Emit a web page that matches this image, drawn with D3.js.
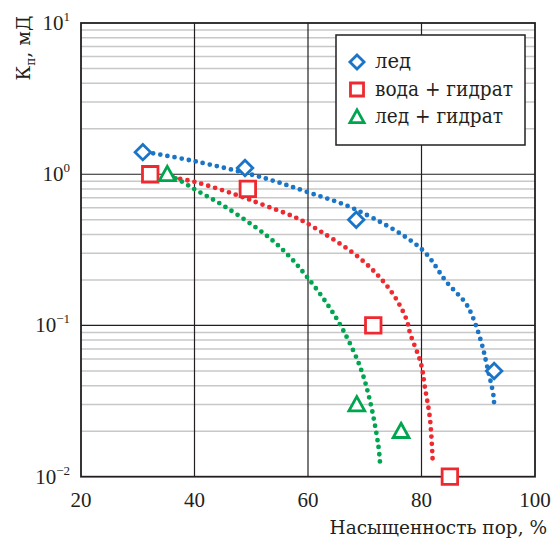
<!DOCTYPE html>
<html>
<head>
<meta charset="utf-8">
<script src="https://cdn.jsdelivr.net/npm/d3@7"></script>
<style>
  body { margin: 0; background: #fff; }
</style>
</head>
<body>
<div class="chart"></div>
<script>

const svgWidth = 552;
const svgHeight = 541;

// measured points
const iceX = [30.9, 48.9, 68.5, 92.8];
const iceY = [1.4, 1.1, 0.5, 0.05];
const waterHydX = [32.2, 49.4, 71.5, 85.0];
const waterHydY = [1.0, 0.8, 0.1, 0.01];
const iceHydX = [35.2, 68.6, 76.4];
const iceHydY = [1.0, 0.03, 0.02];

// trend curves
const iceTrendX = [31.5, 40, 52, 60, 68.6, 80, 84.4, 87.8, 89.1, 90.6, 91.5, 92.7, 92.8];
const iceTrendY = [1.40, 1.22, 0.95, 0.76, 0.58, 0.32, 0.194, 0.14, 0.112, 0.076, 0.055, 0.034, 0.029];
const waterTrendX = [35, 40, 47.4, 51.5, 57.7, 60.4, 69.2, 74.5, 77.3, 78.0, 79.9, 80.6, 81.5, 82.0];
const waterTrendY = [0.97, 0.89, 0.73, 0.64, 0.52, 0.46, 0.277, 0.171, 0.111, 0.0885, 0.056, 0.039, 0.024, 0.012];
const iceHydTrendX = [35.5, 37.4, 40.4, 45.1, 53, 56.8, 59.8, 63.3, 66.2, 69.2, 70.9, 72.4, 72.7];
const iceHydTrendY = [0.98, 0.91, 0.78, 0.62, 0.385, 0.284, 0.21, 0.14, 0.093, 0.053, 0.032, 0.016, 0.0122];

const xTicks = [20, 40, 60, 80, 100];
const yDecades = [0.01, 0.1, 1, 10];
const yExp = ["\u22122", "\u22121", "0", "1"];
const legendNames = ["лед", "вода + гидрат", "лед + гидрат"];

const colors = { blue: "#1a75c6", red: "#ee2a30", green: "#00a550" };
const serif = "'Liberation Serif', serif";
const cyrSerif = "'DejaVu Serif', serif";

const svg = d3.select(".chart")
    .append("svg")
    .attr("width", svgWidth)
    .attr("height", svgHeight)
    .style("font-family", serif);

const plotLeft = 81, plotRight = 535, plotTop = 23, plotBottom = 476.7;

const x = d3.scaleLinear().domain([20, 100]).range([plotLeft, plotRight]);
const y = d3.scaleLog().domain([0.01, 10]).range([plotBottom, plotTop]);

// minor grid
const minor = y.ticks().filter(t => !yDecades.some(d => Math.abs(d - t) < 1e-9));
svg.append("g")
    .selectAll("line")
    .data(minor)
    .enter()
    .append("line")
    .attr("x1", plotLeft).attr("x2", plotRight)
    .attr("y1", d => y(d)).attr("y2", d => y(d))
    .attr("stroke", "#c8c8c8")
    .attr("stroke-width", 1.5);

// major grid
svg.append("g")
    .selectAll("line")
    .data(yDecades.slice(1, 3))
    .enter()
    .append("line")
    .attr("x1", plotLeft).attr("x2", plotRight)
    .attr("y1", d => y(d)).attr("y2", d => y(d))
    .attr("stroke", "#231f20")
    .attr("stroke-width", 1.2);

svg.append("g")
    .selectAll("line")
    .data(xTicks.slice(1, 4))
    .enter()
    .append("line")
    .attr("y1", plotTop).attr("y2", plotBottom)
    .attr("x1", d => x(d)).attr("x2", d => x(d))
    .attr("stroke", "#231f20")
    .attr("stroke-width", 1.2);

svg.append("rect")
    .attr("x", plotLeft).attr("y", plotTop)
    .attr("width", plotRight - plotLeft).attr("height", plotBottom - plotTop)
    .attr("fill", "none")
    .attr("stroke", "#231f20")
    .attr("stroke-width", 1.8);

// tick labels
svg.append("g")
    .selectAll("text")
    .data(xTicks)
    .enter()
    .append("text")
    .attr("x", d => x(d))
    .attr("y", 507)
    .attr("text-anchor", "middle")
    .attr("fill", "#231f20")
    .style("font-size", "21px")
    .text(d => d);

const yLab = svg.append("g")
    .selectAll("text")
    .data(yDecades)
    .enter()
    .append("text")
    .attr("x", 70)
    .attr("y", d => y(d) + 7)
    .attr("text-anchor", "end")
    .attr("fill", "#231f20")
    .style("font-size", "21px");
yLab.append("tspan").text("10");
yLab.append("tspan")
    .attr("dy", -9)
    .style("font-size", "13px")
    .text((d, i) => yExp[i]);

// axis titles
svg.append("text")
    .attr("x", 547)
    .attr("y", 534)
    .attr("text-anchor", "end")
    .attr("fill", "#231f20")
    .style("font-family", cyrSerif)
    .style("font-size", "18.5px")
    .text("Насыщенность пор, %");

const yTitle = svg.append("text")
    .attr("transform", "translate(30, 48) rotate(-90)")
    .attr("text-anchor", "middle")
    .attr("fill", "#231f20")
    .style("font-family", cyrSerif)
    .style("font-size", "19px");
yTitle.append("tspan").text("К");
yTitle.append("tspan").attr("dy", 5).style("font-size", "12px").text("п");
yTitle.append("tspan").attr("dy", -5).text(", мД");

// dotted trends
const line = d3.line()
    .x(d => x(d[0]))
    .y(d => y(d[1]))
    .curve(d3.curveCatmullRom);

const trends = [
    [iceTrendX, iceTrendY, colors.blue],
    [waterTrendX, waterTrendY, colors.red],
    [iceHydTrendX, iceHydTrendY, colors.green]
];
trends.forEach(function (t) {
    svg.append("path")
        .datum(t[0].map((v, i) => [v, t[1][i]]))
        .attr("d", line)
        .attr("fill", "none")
        .attr("stroke", t[2])
        .attr("stroke-width", 4.8)
        .attr("stroke-linecap", "round")
        .attr("stroke-dasharray", "0 7.2");
});

// markers
function drawMarkers(xs, ys, shape, color, size) {
    svg.append("g")
        .selectAll("path")
        .data(xs.map((v, i) => [v, ys[i]]))
        .enter()
        .append("path")
        .attr("transform", d => `translate(${x(d[0])}, ${y(d[1])})`)
        .attr("d", d3.symbol().type(shape).size(size))
        .attr("fill", "#fff")
        .attr("stroke", color)
        .attr("stroke-width", 2.8);
}

const diamond = {
    draw(ctx, size) {
        const r = Math.sqrt(size) / 2;
        ctx.moveTo(0, -r); ctx.lineTo(r, 0); ctx.lineTo(0, r); ctx.lineTo(-r, 0); ctx.closePath();
    }
};
const triangle = {
    draw(ctx, size) {
        const r = Math.sqrt(size) / 2;
        ctx.moveTo(0, -r); ctx.lineTo(r, r * 0.8); ctx.lineTo(-r, r * 0.8); ctx.closePath();
    }
};

drawMarkers(iceX, iceY, diamond, colors.blue, 240);
drawMarkers(waterHydX, waterHydY, d3.symbolSquare, colors.red, 240);
drawMarkers(iceHydX, iceHydY, triangle, colors.green, 250);

// legend
const legend = svg.append("g");
legend.append("rect")
    .attr("x", 336).attr("y", 35)
    .attr("width", 189).attr("height", 110)
    .attr("fill", "#fff")
    .attr("stroke", "#231f20")
    .attr("stroke-width", 1.5);

const legendShapes = [diamond, d3.symbolSquare, triangle];
const legendColors = [colors.blue, colors.red, colors.green];
const legendSizes = [200, 170, 200];
const legendWidths = [36, 138, 128];
legendNames.forEach(function (name, i) {
    const ly = 62 + i * 27.5;
    legend.append("path")
        .attr("transform", `translate(357, ${ly})`)
        .attr("d", d3.symbol().type(legendShapes[i]).size(legendSizes[i]))
        .attr("fill", "#fff")
        .attr("stroke", legendColors[i])
        .attr("stroke-width", 2.8);
    legend.append("text")
        .attr("x", 375)
        .attr("y", ly + 6)
        .attr("fill", "#231f20")
        .attr("textLength", legendWidths[i])
        .attr("lengthAdjust", "spacingAndGlyphs")
        .style("font-family", cyrSerif)
        .style("font-size", "20px")
        .text(name);
});

</script>
</body>
</html>
